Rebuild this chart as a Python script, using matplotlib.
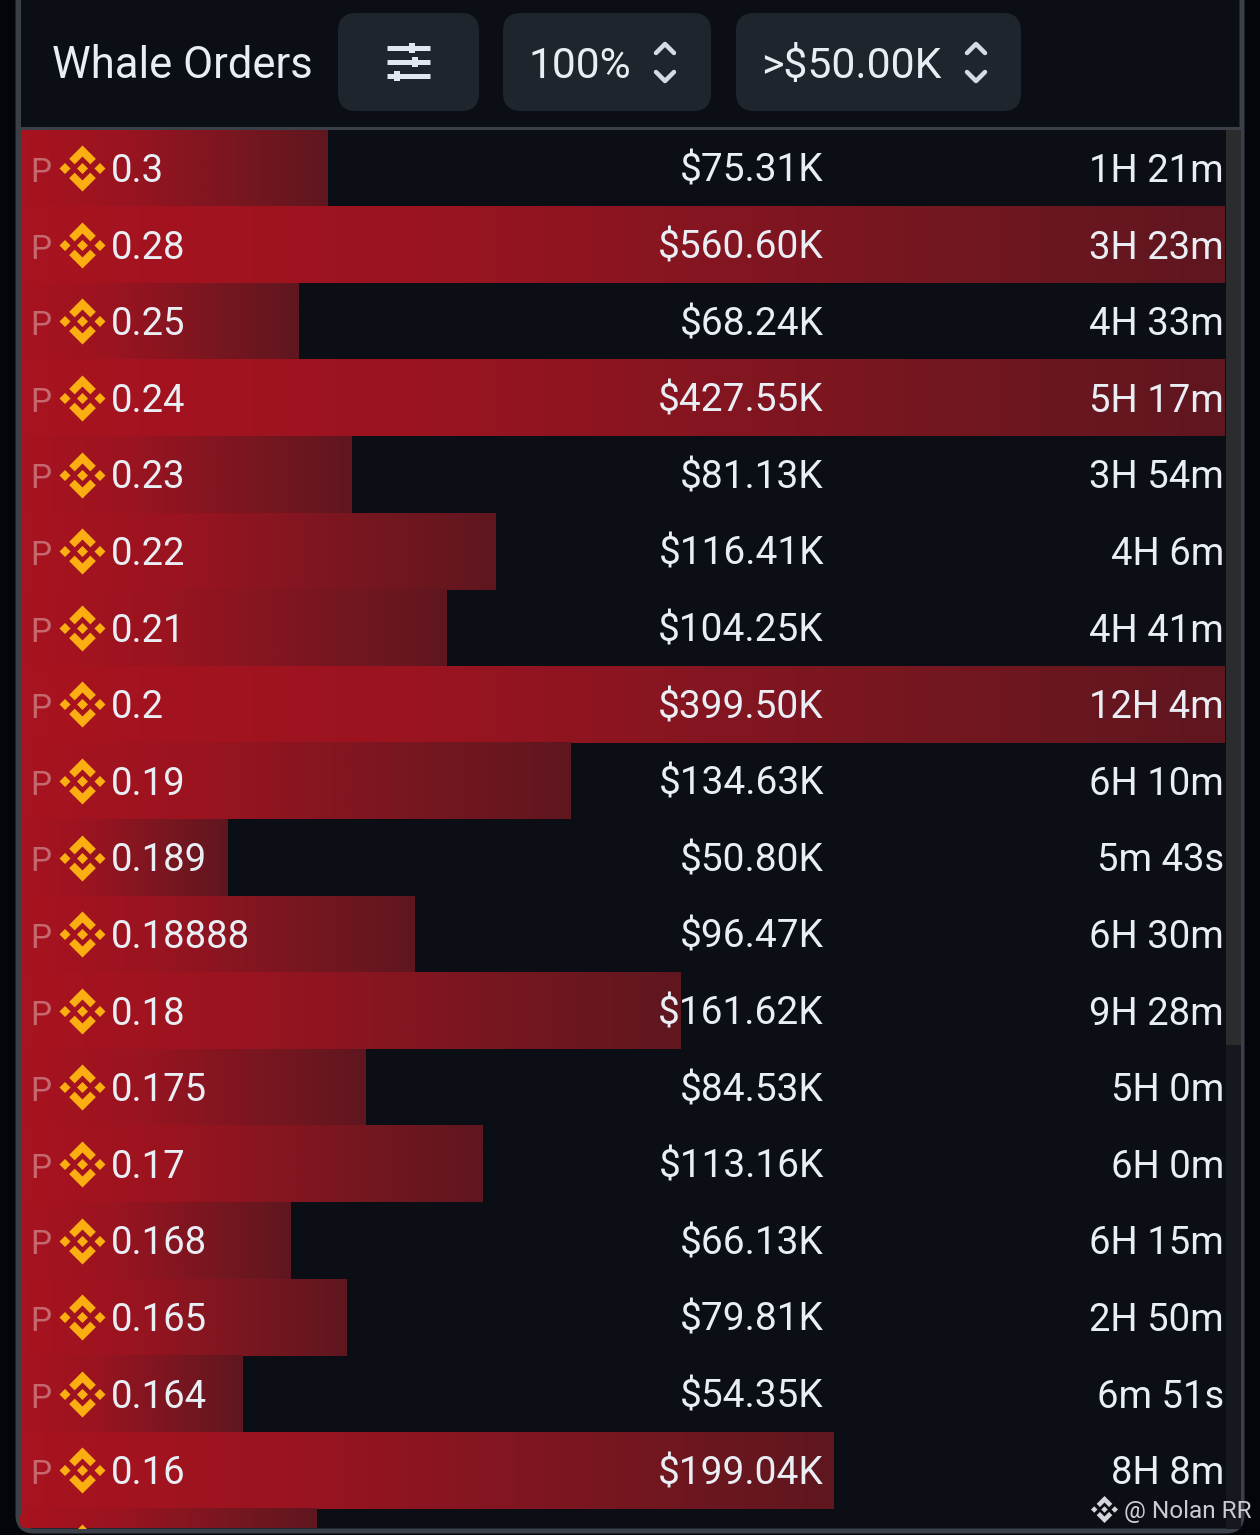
import matplotlib
matplotlib.use("Agg")
import matplotlib.pyplot as plt
import numpy as np
from matplotlib.colors import LinearSegmentedColormap
from matplotlib.patches import FancyBboxPatch, Rectangle
from matplotlib.path import Path
from matplotlib.transforms import blended_transform_factory

plt.rcParams['font.family'] = ['Roboto', 'DejaVu Sans']

W, H = 1260, 1535
DPI = 100

prices = ["0.3", "0.28", "0.25", "0.24", "0.23", "0.22", "0.21", "0.2", "0.19", "0.189",
          "0.18888", "0.18", "0.175", "0.17", "0.168", "0.165", "0.164", "0.16", ""]
usd_k = [75.31, 560.60, 68.24, 427.55, 81.13, 116.41, 104.25, 399.50, 134.63, 50.80,
         96.47, 161.62, 84.53, 113.16, 66.13, 79.81, 54.35, 199.04, 72.5]
usd_labels = ["$75.31K", "$560.60K", "$68.24K", "$427.55K", "$81.13K", "$116.41K", "$104.25K",
              "$399.50K", "$134.63K", "$50.80K", "$96.47K", "$161.62K", "$84.53K", "$113.16K",
              "$66.13K", "$79.81K", "$54.35K", "$199.04K", ""]
ages = ["1H 21m", "3H 23m", "4H 33m", "5H 17m", "3H 54m", "4H 6m", "4H 41m", "12H 4m", "6H 10m",
        "5m 43s", "6H 30m", "9H 28m", "5H 0m", "6H 0m", "6H 15m", "2H 50m", "6m 51s", "8H 8m", ""]

PANEL = "#0b0e15"
EDGE = "#3a3f48"
TXT = "#e9eef4"
GOLD = "#fbae12"
BTN = "#1e252c"


def px(v):
    return v * 72 / DPI


def logo_path():
    polys = [
        [(0, 1), (.58, .42), (.34, .18), (0, .52), (-.34, .18), (-.58, .42)],
        [(0, -1), (.58, -.42), (.34, -.18), (0, -.52), (-.34, -.18), (-.58, -.42)],
        [(0, .24), (.24, 0), (0, -.24), (-.24, 0)],
        [(.76, .24), (1, 0), (.76, -.24), (.52, 0)],
        [(-.76, .24), (-.52, 0), (-.76, -.24), (-1, 0)],
    ]
    verts, codes = [], []
    for p in polys:
        verts += p + [p[0]]
        codes += [Path.MOVETO] + [Path.LINETO] * (len(p) - 1) + [Path.CLOSEPOLY]
    return Path(verts, codes)


LOGO = logo_path()
fig = plt.figure(figsize=(W / DPI, H / DPI), dpi=DPI, facecolor="#04050a")

# background layer in pixel coordinates
back = fig.add_axes([0, 0, 1, 1], zorder=0)
back.set_xlim(0, W)
back.set_ylim(H, 0)
back.axis("off")
panel = FancyBboxPatch((18, -40), 1224, 1571, boxstyle="round,pad=0,rounding_size=16",
                       fc=PANEL, ec=EDGE, lw=px(5))
back.add_patch(panel)
back.add_patch(Rectangle((20, 126.5), 1221, 3.5, fc=EDGE, ec="none"))

for x0, x1 in [(338, 479), (503, 711), (736, 1021)]:
    back.add_patch(FancyBboxPatch((x0, 13), x1 - x0, 98, boxstyle="round,pad=0,rounding_size=18",
                                  fc=BTN, ec="none"))
back.text(52, 78, "Whale Orders", color=TXT, fontsize=px(43.6), ha="left", va="baseline")
back.text(529, 78, "100%", color=TXT, fontsize=px(42.5), ha="left", va="baseline")
back.text(761, 78, ">$50.00K", color=TXT, fontsize=px(42.8), ha="left", va="baseline")

# filter icon
for y, knob in [(48, 412), (62, 415), (76, 397)]:
    back.plot([387, 430], [y, y], color="#dfe7ef", lw=px(5), solid_capstyle="butt")
    back.plot([knob, knob], [y - 5, y + 5], color="#dfe7ef", lw=px(6), solid_capstyle="butt")

# sort chevrons
for cx in (665, 976):
    back.plot([cx - 9, cx, cx + 9], [53, 44, 53], color="#d5dbe2", lw=px(4.5),
              solid_joinstyle="round", solid_capstyle="round")
    back.plot([cx - 9, cx, cx + 9], [72, 81, 72], color="#d5dbe2", lw=px(4.5),
              solid_joinstyle="round", solid_capstyle="round")

# scrollbar
back.add_patch(Rectangle((1226, 130), 14.5, 915, fc="#2b2c2e", ec="none"))
back.add_patch(Rectangle((1226, 1045), 14.5, 484, fc="#15181e", ec="none"))

# data layer
left, right, top, bottom = 20.3, 1225, 130.0, 1528
ROW0, PITCH, SCALE = 168.2, 76.6, 4.088
ax = fig.add_axes([left / W, 1 - bottom / H, (right - left) / W, (bottom - top) / H], zorder=1)
ax.patch.set_alpha(0)
for s in ax.spines.values():
    s.set_visible(False)
ax.set_xticks([])
ax.set_yticks([])
xmax = (right - left) / SCALE
ymin, ymax = (top - ROW0) / PITCH, (bottom - ROW0) / PITCH

cmap = LinearSegmentedColormap.from_list("bar", ["#a8131f", "#9a1420", "#7c1620", "#5f171f"])
grad = np.linspace(0, 1, 256).reshape(1, -1)
for i, v in enumerate(usd_k):
    im = ax.imshow(grad, cmap=cmap, aspect="auto", interpolation="bilinear",
                   extent=(0, min(v, xmax), i + 0.5, i - 0.5), zorder=1)
    im.set_clip_path(panel)
ax.set_xlim(0, xmax)
ax.set_ylim(ymax, ymin)

tr = blended_transform_factory(ax.transAxes, ax.transData)


def fx(p):
    return (p - left) / (right - left)


rows = np.arange(len(usd_k))
ax.plot([fx(82)] * len(rows), rows, transform=tr, ls="none", marker=LOGO,
        ms=px(46), mfc=GOLD, mew=0, zorder=2)

base = 13.7 / PITCH
for i, (p, u, a) in enumerate(zip(prices, usd_labels, ages)):
    if not p:
        continue
    y = i + base
    ax.text(fx(30.5), y, "P", transform=tr, color="#ffffff", alpha=0.36, fontsize=px(33.5),
            ha="left", va="baseline", zorder=3)
    ax.text(fx(111), y, p, transform=tr, color=TXT, fontsize=px(38.2), ha="left", va="baseline", zorder=3)
    ax.text(fx(824), y, u, transform=tr, color=TXT, fontsize=px(38.9), ha="right", va="baseline", zorder=3)
    ax.text(fx(1224), y, a, transform=tr, color=TXT, fontsize=px(38.2), ha="right", va="baseline", zorder=3)

# front layer: left border over the bars, watermark
front = fig.add_axes([0, 0, 1, 1], zorder=2)
front.set_xlim(0, W)
front.set_ylim(H, 0)
front.axis("off")
front.add_patch(Rectangle((15.5, 0), 5.5, 1515, fc=EDGE, ec="none"))
front.plot([1104], [1509], ls="none", marker=LOGO, ms=px(27), mfc="#d4d6d9", mew=0)
front.text(1124, 1518, "@ Nolan RR", color="#c9cdd2", fontsize=px(24.4), ha="left", va="baseline")

fig.savefig("out.png", dpi=DPI, facecolor=fig.get_facecolor())
